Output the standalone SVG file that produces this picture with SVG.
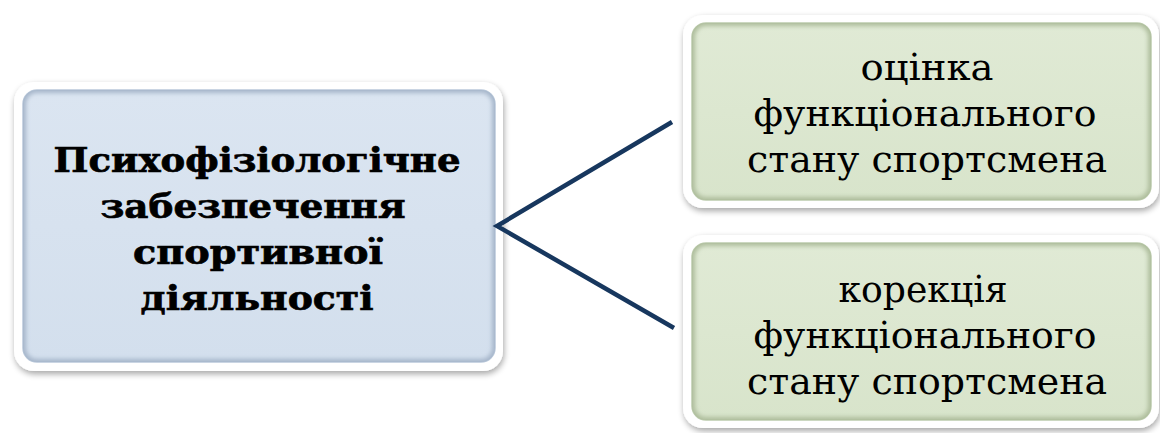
<svg xmlns="http://www.w3.org/2000/svg" width="1160" height="433" viewBox="0 0 1160 433">
  <style>
    .frame { fill: #ffffff; filter: url(#softShadow); }
    .blue { fill: url(#blueFill); stroke: #b9c8da; stroke-width: 1.5; }
    .green { fill: url(#greenFill); stroke: #bccbad; stroke-width: 1.5; }
    .bevel { fill: none; stroke-width: 6; filter: url(#blur2); }
    .title { font-family: "DejaVu Serif", "Liberation Serif", serif; font-weight: bold; font-size: 33px; fill: #000; stroke: #000; stroke-width: 0.7; text-anchor: middle; }
    .label { font-family: "DejaVu Serif", "Liberation Serif", serif; font-size: 37px; fill: #000; text-anchor: middle; }
    .link { stroke: #17375e; stroke-width: 4.5; fill: none; stroke-linejoin: miter; }
  </style>
  <defs>
    <filter id="softShadow" x="-10%" y="-10%" width="120%" height="125%">
      <feGaussianBlur in="SourceAlpha" stdDeviation="3"/>
      <feOffset dx="1" dy="3" result="off"/>
      <feComponentTransfer><feFuncA type="linear" slope="0.35"/></feComponentTransfer>
      <feMerge><feMergeNode/><feMergeNode in="SourceGraphic"/></feMerge>
    </filter>
    <filter id="blur2" x="-5%" y="-5%" width="110%" height="110%">
      <feGaussianBlur stdDeviation="2"/>
    </filter>
    <linearGradient id="blueFill" x1="0" y1="0" x2="0" y2="1">
      <stop offset="0" stop-color="#dbe5f1"/>
      <stop offset="1" stop-color="#d3dfed"/>
    </linearGradient>
    <linearGradient id="greenFill" x1="0" y1="0" x2="0" y2="1">
      <stop offset="0" stop-color="#e0ead5"/>
      <stop offset="1" stop-color="#d8e4cb"/>
    </linearGradient>
    <clipPath id="clipL"><rect x="23" y="90" width="472" height="272" rx="14"/></clipPath>
    <clipPath id="clipT"><rect x="692" y="23" width="459" height="177" rx="14"/></clipPath>
    <clipPath id="clipB"><rect x="692" y="243" width="459" height="177" rx="14"/></clipPath>
  </defs>

  <!-- central node -->
  <g id="node-main">
    <rect class="frame" x="14" y="82" width="489" height="289" rx="20"/>
    <rect class="blue" x="23" y="90" width="472" height="272" rx="14"/>
    <rect class="bevel" x="23" y="90" width="472" height="272" rx="14" stroke="#a6b6ca" clip-path="url(#clipL)"/>
    <text class="title" x="257" y="172" textLength="407" lengthAdjust="spacingAndGlyphs">Психофізіологічне</text>
    <text class="title" x="253" y="218" textLength="305" lengthAdjust="spacingAndGlyphs">забезпечення</text>
    <text class="title" x="258" y="264" textLength="250" lengthAdjust="spacingAndGlyphs">спортивної</text>
    <text class="title" x="257" y="310" textLength="233" lengthAdjust="spacingAndGlyphs">діяльності</text>
  </g>

  <!-- upper node -->
  <g id="node-assessment">
    <rect class="frame" x="683" y="15" width="476" height="193" rx="20"/>
    <rect class="green" x="692" y="23" width="459" height="177" rx="14"/>
    <rect class="bevel" x="692" y="23" width="459" height="177" rx="14" stroke="#aebd9c" clip-path="url(#clipT)"/>
    <text class="label" x="927" y="80" textLength="133" lengthAdjust="spacingAndGlyphs">оцінка</text>
    <text class="label" x="925" y="126" textLength="343" lengthAdjust="spacingAndGlyphs">функціонального</text>
    <text class="label" x="927" y="172" textLength="360" lengthAdjust="spacingAndGlyphs">стану спортсмена</text>
  </g>

  <!-- lower node -->
  <g id="node-correction">
    <rect class="frame" x="683" y="235" width="476" height="193" rx="20"/>
    <rect class="green" x="692" y="243" width="459" height="177" rx="14"/>
    <rect class="bevel" x="692" y="243" width="459" height="177" rx="14" stroke="#aebd9c" clip-path="url(#clipB)"/>
    <text class="label" x="923" y="302" textLength="169" lengthAdjust="spacingAndGlyphs">корекція</text>
    <text class="label" x="925" y="348" textLength="343" lengthAdjust="spacingAndGlyphs">функціонального</text>
    <text class="label" x="927" y="394" textLength="360" lengthAdjust="spacingAndGlyphs">стану спортсмена</text>
  </g>

  <!-- connectors -->
  <g id="connectors">
    <polyline class="link" points="672,122 497,226 674,328"/>
  </g>
</svg>
